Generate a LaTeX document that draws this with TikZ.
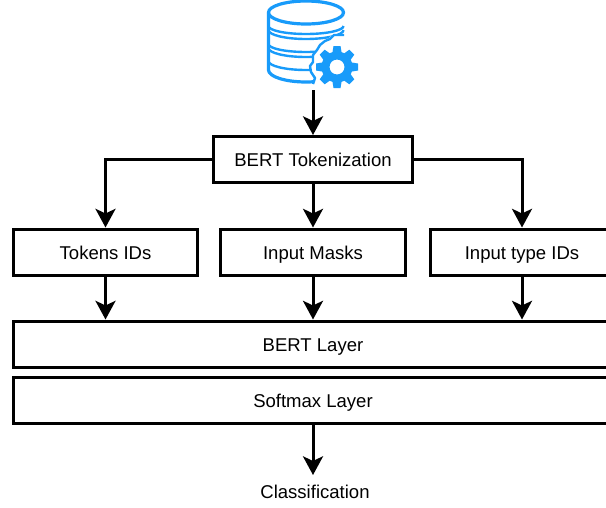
\documentclass[tikz,border=0pt]{standalone}
\usepackage{fontspec}
\setmainfont{Liberation Sans}
\usetikzlibrary{arrows.meta}
\definecolor{dbblue}{RGB}{24,155,250}

\begin{document}
\begin{tikzpicture}[x=0.75pt,y=-0.75pt,
  label text/.style={font=\fontsize{13.9}{16}\selectfont,text height=12pt,text depth=1.5pt,inner sep=0pt},
  box/.style={label text,draw=black,line width=2.25pt,fill=white,minimum height=34.5pt},
  arrow/.style={line width=2.25pt,-{Stealth[length=14pt,width=15pt,inset=3.5pt]}},
  band/.style={line width=1.8pt},
  botarc/.style={start angle=180,end angle=0,x radius=37.5}]

  \useasboundingbox (0,0) rectangle (606,507);
  \clip (0,0) rectangle (606,507);

  % database
  \begin{scope}[dbblue,line width=2.4pt]
    \draw (268.5,13) -- (268.5,70) arc[botarc,y radius=12] -- (343.5,36);
    \draw[band] (268.5,26) arc[botarc,y radius=8];
    \draw[band] (268.5,30) arc[botarc,y radius=9];
    \draw[band] (268.5,44) arc[botarc,y radius=8];
    \draw[band] (268.5,48) arc[botarc,y radius=9];
    \draw[band] (268.5,61) arc[botarc,y radius=9];
    \draw[fill=white] (306,12.5) ellipse[x radius=37.5,y radius=11.5];
    % cut around the gear
    \fill[white] (345.5,36) -- (331,36) -- (325,42) -- (318,48) -- (312,60) -- (310,68)
      -- (315,80) -- (312,86) -- (360,95) -- (360,36) -- cycle;
    \draw[band,line join=round] (344,35) -- (334,35) -- (330,39) -- (325,41) -- (320,45)
      -- (317,50) -- (313,55) -- (313,62) -- (310,66) -- (311,72) -- (315,78) -- (313,84);
    \fill[even odd rule] (337,67) circle[radius=15.5] circle[radius=7.5];
    \foreach \a in {0,45,...,315}
      \fill[rotate around={\a:(337,67)}] (332,55) -- (333.5,46) -- (340.5,46) -- (342,55) -- cycle;
  \end{scope}

  \coordinate (db) at (313,90);
  \node [box,minimum width=149.5pt] (tok) at (313,159.5) {BERT Tokenization};
  \node [box,minimum width=138.5pt] (ids) at (105.5,252) {Tokens IDs};
  \node [box,minimum width=139pt] (masks) at (313,252) {Input Masks};
  \node [box,minimum width=138pt] (types) at (522,252) {Input type IDs};
  \node [box,minimum width=450pt] (bert) at (313,344) {BERT Layer};
  \node [box,minimum width=450pt] (soft) at (313,400) {Softmax Layer};
  \node [label text] (cls) at (315,491) {Classification};
  \coordinate (clstop) at (313,475);

  \draw [arrow] (db) -- (tok);
  \draw [arrow] (tok.west) -| (ids.north);
  \draw [arrow] (tok) -- (masks);
  \draw [arrow] (tok.east) -| (types.north);
  \draw [arrow] (ids.south) -- (ids.south |- bert.north);
  \draw [arrow] (masks.south) -- (masks.south |- bert.north);
  \draw [arrow] (types.south) -- (types.south |- bert.north);
  \draw [arrow] (soft.south -| clstop) -- (clstop);
\end{tikzpicture}
\end{document}
